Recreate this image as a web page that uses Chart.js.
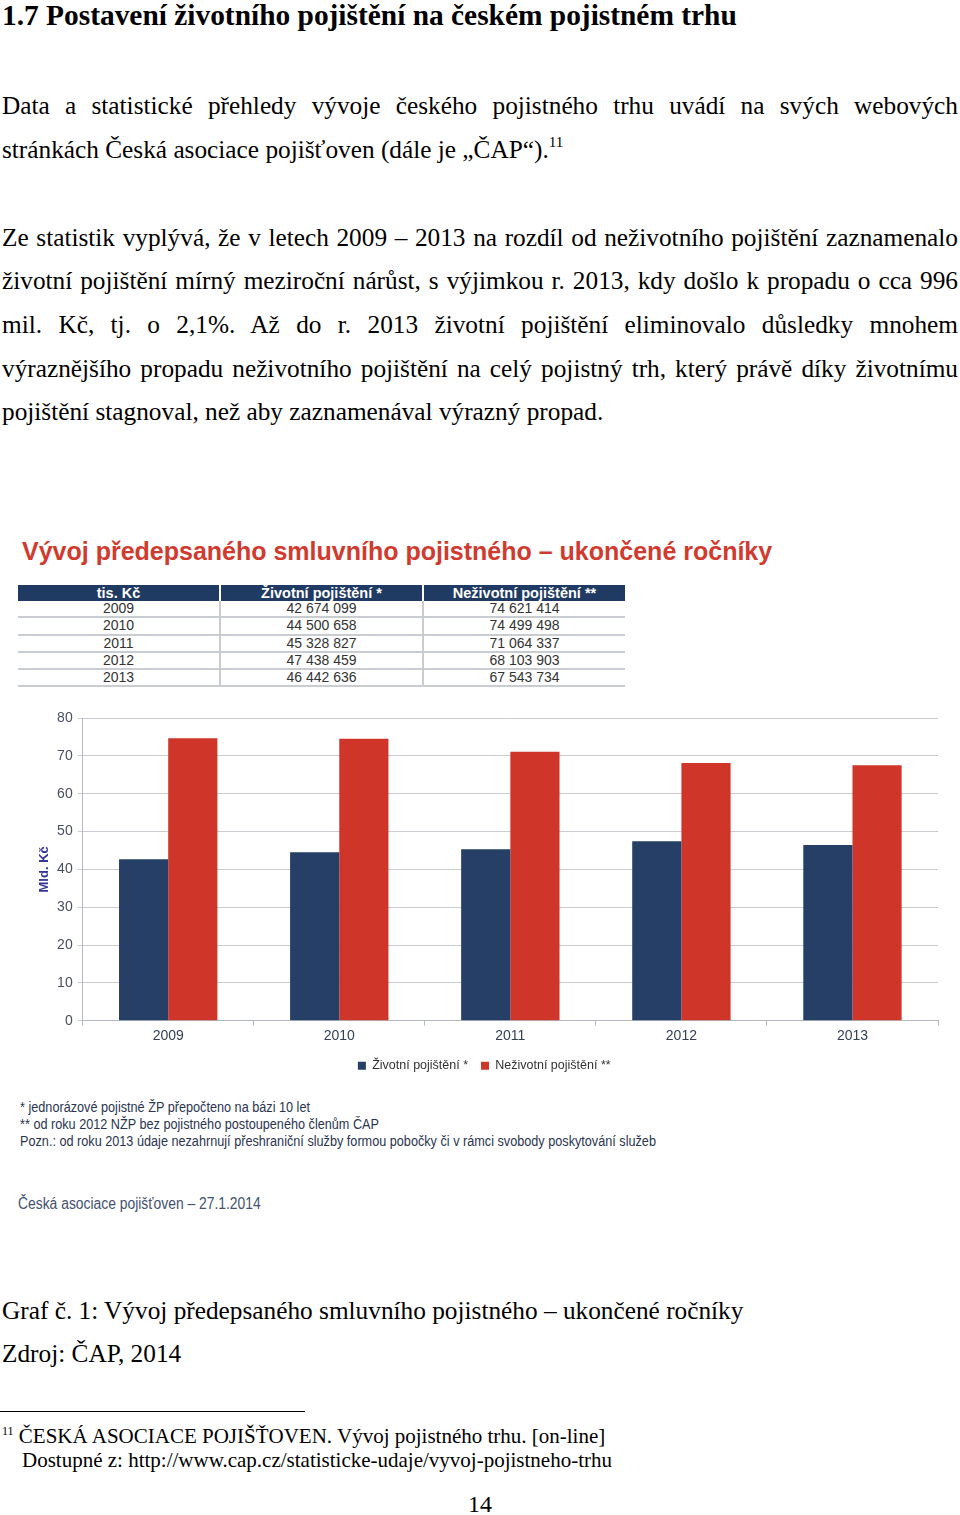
<!DOCTYPE html>
<html lang="cs">
<head>
<meta charset="utf-8">
<title>Graf č. 1</title>
<script src="https://cdn.jsdelivr.net/npm/chart.js@4"></script>
<style>
  html, body { margin: 0; padding: 0; background: #fff; }
  body { width: 960px; height: 1515px; position: relative; overflow: hidden; }
  .serif { font-family: "Liberation Serif", "Times New Roman", serif; color: #000; }
  .abs { position: absolute; }
  h1 { margin: 0; font-size: 29.4px; font-weight: bold; line-height: 30px; white-space: nowrap; }
  .line { position: absolute; left: 2px; width: 956px; font-size: 25.3px; line-height: 30px; white-space: nowrap; }
  .just { text-align: justify; text-align-last: justify; }
  sup { font-size: 60%; line-height: 0; vertical-align: 0.7em; }
  .red-title { font-family: "Liberation Sans", Arial, sans-serif; font-weight: bold; color: #d13a2e; font-size: 25px; white-space: nowrap; }
  table.cap { table-layout: fixed; border-collapse: separate; border-spacing: 2px 0; font-family: "Liberation Sans", Arial, sans-serif; font-size: 14px; color: #333; }
  table.cap th { background: #1f3a63; color: #fff; font-weight: bold; font-size: 14.5px; height: 16px; padding: 0; line-height: 16px; }
  table.cap td { text-align: center; height: 15.3px; line-height: 15.3px; padding: 0; border-bottom: 2px solid #c9ccd1; }
  table.cap td + td { box-shadow: -2px 0 0 #c9ccd1; }
  .narrow { display: inline-block; transform-origin: left top; white-space: nowrap; }
  .note { font-family: "Liberation Sans", Arial, sans-serif; font-size: 14px; color: #2b3550; line-height: 17px; transform: scaleX(0.905); }
</style>
</head>
<body>
<script>
// hodnoty z tabulky ČAP (tis. Kč)
const years = ["2009", "2010", "2011", "2012", "2013"];
const zivotniTis = [42674099, 44500658, 45328827, 47438459, 46442636];
const nezivotniTis = [74621414, 74499498, 71064337, 68103903, 67543734];
const seriesNames = ["Životní pojištění *", "Neživotní pojištění **"];
const tableHeader = ["tis. Kč", "Životní pojištění *", "Neživotní pojištění **"];
const yMax = 80;
const yStep = 10;
</script>

<h1 class="serif abs" style="left:2px; top:0px;">1.7 Postavení životního pojištění na českém pojistném trhu</h1>

<div class="serif">
  <div class="line just" style="top:90px;">Data a statistické přehledy vývoje českého pojistného trhu uvádí na svých webových</div>
  <div class="line" style="top:134px;">stránkách Česká asociace pojišťoven (dále je „ČAP“).<sup>11</sup></div>

  <div class="line just" style="top:222px;">Ze statistik vyplývá, že v letech 2009 – 2013 na rozdíl od neživotního pojištění zaznamenalo</div>
  <div class="line just" style="top:265px;">životní pojištění mírný meziroční nárůst, s výjimkou r. 2013, kdy došlo k propadu o cca 996</div>
  <div class="line just" style="top:309px;">mil. Kč, tj. o 2,1%. Až do r. 2013 životní pojištění eliminovalo důsledky mnohem</div>
  <div class="line just" style="top:353px;">výraznějšího propadu neživotního pojištění na celý pojistný trh, který právě díky životnímu</div>
  <div class="line" style="top:396px;">pojištění stagnoval, než aby zaznamenával výrazný propad.</div>
</div>

<div class="red-title abs" style="left:22px; top:537px;">Vývoj předepsaného smluvního pojistného – ukončené ročníky</div>

<table class="cap abs" id="capTable" style="left:16px; top:585px; width:611px;">
  <colgroup><col style="width:201px"><col style="width:201px"><col style="width:201px"></colgroup>
</table>

<div class="abs" style="left:18px; top:700px; width:940px; height:384px;">
  <canvas id="barChart"></canvas>
</div>

<div class="note narrow abs" style="left:20px; top:1099px;">
  * jednorázové pojistné ŽP přepočteno na bázi 10 let<br>
  ** od roku 2012 NŽP bez pojistného postoupeného členům ČAP<br>
  Pozn.: od roku 2013 údaje nezahrnují přeshraniční služby formou pobočky či v rámci svobody poskytování služeb
</div>

<div class="narrow abs" style="left:18px; top:1195px; font-family:'Liberation Sans',Arial,sans-serif; font-size:16px; color:#45526e; transform:scaleX(0.867);">Česká asociace pojišťoven – 27.1.2014</div>

<div class="serif">
  <div class="line" style="top:1295px;">Graf č. 1: Vývoj předepsaného smluvního pojistného – ukončené ročníky</div>
  <div class="line" style="top:1338px;">Zdroj: ČAP, 2014</div>
</div>

<div class="abs" style="left:0; top:1411px; width:305px; height:1px; background:#000;"></div>
<div class="serif abs" style="left:2px; top:1424px; font-size:21px; line-height:24px; white-space:nowrap;">
  <sup style="font-size:12px;">11</sup> ČESKÁ ASOCIACE POJIŠŤOVEN. Vývoj pojistného trhu. [on-line]<br>
  <span style="padding-left:20px;">Dostupné z: http://www.cap.cz/statisticke-udaje/vyvoj-pojistneho-trhu</span>
</div>
<div class="serif abs" style="left:468px; top:1490px; font-size:24px; line-height:28px;">14</div>

<script>
document.addEventListener("DOMContentLoaded", () => {
  // tabulka
  const fmt = (n) => String(n).replace(/\B(?=(\d{3})+(?!\d))/g, " ");
  const tbl = document.getElementById("capTable");
  let html = "<tr>" + tableHeader.map((h) => "<th>" + h + "</th>").join("") + "</tr>";
  years.forEach((y, i) => {
    html += "<tr><td>" + y + "</td><td>" + fmt(zivotniTis[i]) + "</td><td>" + fmt(nezivotniTis[i]) + "</td></tr>";
  });
  tbl.insertAdjacentHTML("beforeend", html);

  // graf v mld. Kč
  const zivotni = zivotniTis.map((v) => v / 1e6);
  const nezivotni = nezivotniTis.map((v) => v / 1e6);

  const tickFont = { family: "'Liberation Sans', Arial, sans-serif", size: 14 };
  const ctx = document.getElementById("barChart").getContext("2d");
  new Chart(ctx, {
    type: "bar",
    data: {
      labels: years,
      datasets: [
        {
          label: seriesNames[0],
          data: zivotni,
          backgroundColor: "#253f66",
          categoryPercentage: 0.575,
          barPercentage: 1.0,
        },
        {
          label: seriesNames[1],
          data: nezivotni,
          backgroundColor: "#cf3629",
          categoryPercentage: 0.575,
          barPercentage: 1.0,
        },
      ],
    },
    options: {
      responsive: true,
      maintainAspectRatio: false,
      animation: false,
      layout: { padding: { top: 18, left: 12.5, right: 20, bottom: 2 } },
      scales: {
        x: {
          grid: { drawOnChartArea: false, drawTicks: true, tickLength: 5, color: "#b4b8bf" },
          border: { color: "#b4b8bf" },
          ticks: { color: "#34405a", font: tickFont, padding: 2 },
        },
        y: {
          min: 0,
          max: yMax,
          grid: { color: "#c9ccd1", tickLength: 5 },
          border: { color: "#b4b8bf" },
          ticks: { stepSize: yStep, color: "#4a5060", font: tickFont, padding: 5 },
          title: {
            display: true,
            text: "Mld. Kč",
            color: "#35359a",
            font: { family: "'Liberation Sans', Arial, sans-serif", size: 13, weight: "bold" },
            padding: { top: 6, bottom: 0 },
          },
        },
      },
      plugins: {
        legend: {
          position: "bottom",
          labels: {
            boxWidth: 8,
            boxHeight: 8,
            padding: 13,
            color: "#333",
            font: { family: "'Liberation Sans', Arial, sans-serif", size: 12.5 },
          },
        },
        tooltip: { enabled: false },
      },
    },
  });
});
</script>
</body>
</html>
